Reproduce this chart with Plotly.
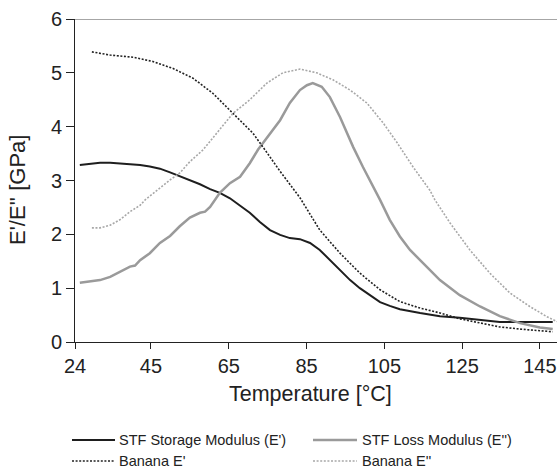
import plotly.graph_objects as go

# ---- data ----
stf_storage_T = [26.7, 29.3, 31.9, 34.5, 37.0, 40.0, 42.2, 44.7, 47.3, 49.9, 52.4, 55.0, 57.6, 60.2,
                 62.7, 65.3, 67.9, 70.4, 73.0, 75.6, 78.2, 80.7, 83.3, 85.9, 88.4, 91.0, 93.6, 96.2,
                 98.7, 101.3, 103.9, 106.4, 109.0, 114.2, 119.3, 124.4, 129.6, 134.7, 139.9, 148.3]
stf_storage_E = [3.29, 3.31, 3.33, 3.33, 3.32, 3.30, 3.29, 3.26, 3.22, 3.15, 3.08, 3.01, 2.93, 2.84,
                 2.77, 2.67, 2.54, 2.40, 2.23, 2.08, 1.99, 1.93, 1.91, 1.84, 1.71, 1.52, 1.34, 1.15,
                 1.00, 0.87, 0.74, 0.67, 0.61, 0.54, 0.48, 0.45, 0.41, 0.37, 0.37, 0.37]

stf_loss_T = [26.7, 29.3, 31.9, 34.5, 37.0, 39.6, 40.9, 42.2, 44.7, 47.3, 49.9, 52.4, 55.0, 57.6,
              58.9, 60.2, 62.7, 65.3, 67.9, 70.4, 72.5, 75.6, 78.2, 80.7, 83.3, 85.1, 86.6, 88.9,
              91.0, 93.6, 96.2, 97.0, 99.5, 103.1, 103.9, 106.4, 109.0, 111.6, 114.2, 119.3, 124.4,
              129.6, 134.7, 139.9, 145.0, 148.3]
stf_loss_E = [1.10, 1.13, 1.15, 1.21, 1.31, 1.40, 1.42, 1.52, 1.65, 1.84, 1.97, 2.15, 2.31, 2.40,
              2.42, 2.51, 2.77, 2.95, 3.07, 3.32, 3.57, 3.88, 4.12, 4.44, 4.68, 4.77, 4.81, 4.74,
              4.55, 4.18, 3.75, 3.62, 3.25, 2.76, 2.64, 2.27, 1.96, 1.71, 1.52, 1.15, 0.87,
              0.66, 0.48, 0.35, 0.27, 0.24]

banana_storage_T = [29.8, 34.5, 40.4, 45.5, 50.7, 55.8, 60.9, 66.1, 71.2, 74.5, 78.2, 83.3, 88.4,
                    93.6, 98.7, 103.9, 109.0, 114.2, 119.3, 124.4, 129.6, 134.7, 139.9, 148.3]
banana_storage_E = [5.39, 5.33, 5.29, 5.21, 5.08, 4.90, 4.62, 4.25, 3.88, 3.55, 3.17, 2.68, 2.08,
                    1.65, 1.28, 0.97, 0.75, 0.63, 0.54, 0.43, 0.35, 0.28, 0.24, 0.19]

banana_loss_T = [29.8, 31.9, 34.5, 37.0, 39.6, 42.2, 43.5, 46.5, 49.9, 52.4, 55.0, 58.4, 62.0, 66.1,
                 70.4, 74.8, 78.9, 83.3, 87.6, 91.8, 96.2, 100.5, 104.7, 108.3, 112.4, 116.7, 118.0,
                 121.9, 127.0, 132.1, 137.3, 142.4, 146.8, 149.4]
banana_loss_E = [2.12, 2.12, 2.17, 2.27, 2.42, 2.54, 2.64, 2.82, 3.01, 3.14, 3.35, 3.57, 3.89, 4.25,
                 4.50, 4.81, 5.00, 5.07, 5.00, 4.87, 4.68, 4.44, 4.07, 3.70, 3.25, 2.82, 2.64,
                 2.21, 1.71, 1.28, 0.91, 0.66, 0.47, 0.38]

series_names = ["STF Storage Modulus (E')", "STF Loss Modulus (E'')", "Banana E'", "Banana E''"]

x_tick_vals = [25.46, 45, 65, 85, 105, 125, 145]
x_tick_text = ["24", "45", "65", "85", "105", "125", "145"]
y_tick_vals = [0, 1, 2, 3, 4, 5, 6]

FONT = "Liberation Sans, Arial, sans-serif"
TXT = "#222222"

styles = [
    dict(color="#1e1e1e", width=2, dash="solid"),
    dict(color="#9a9a9a", width=2.5, dash="solid"),
    dict(color="#222222", width=1.6, dash="2px,1.6px"),
    dict(color="#a8a8a8", width=1.6, dash="2px,1.6px"),
]
xs = [stf_storage_T, stf_loss_T, banana_storage_T, banana_loss_T]
ys = [stf_storage_E, stf_loss_E, banana_storage_E, banana_loss_E]

fig = go.Figure()
for x, y, nm, st in zip(xs, ys, series_names, styles):
    fig.add_trace(go.Scatter(x=x, y=y, mode="lines", name=nm, line=st, showlegend=False))

# plot area in the reference: x 75..557 px, y 19..342 px
def px_x(p):
    return (p - 75) / 482.0

def px_y(p):
    return (342 - p) / 323.0

# legend (2 x 2), drawn as shapes + text
legend_pos = [(72, 115, 117, 440), (313, 357, 360, 440), (72, 115, 117, 461), (313, 357, 360, 461)]
shapes = [dict(type="line", xref="paper", yref="y", x0=0, x1=1, y0=6, y1=6,
               line=dict(color="#888888", width=1.5))]
annotations = []
for (lx0, lx1, tx, ly), nm, st in zip(legend_pos, series_names, styles):
    shapes.append(dict(type="line", xref="paper", yref="paper",
                       x0=px_x(lx0), x1=px_x(lx1), y0=px_y(ly), y1=px_y(ly),
                       line=dict(color=st["color"], width=st["width"] if st["dash"] == "solid" else 1.6,
                                 dash=st["dash"])))
    annotations.append(dict(text=nm, xref="paper", yref="paper", x=px_x(tx), y=px_y(ly),
                            xanchor="left", yanchor="middle", showarrow=False,
                            font=dict(family=FONT, size=14.5, color=TXT)))

annotations += [
    dict(text="Temperature [°C]", xref="paper", yref="paper", x=px_x(310), y=px_y(394),
         xanchor="center", yanchor="middle", showarrow=False,
         font=dict(family=FONT, size=21.5, color=TXT)),
    dict(text="E'/E'' [GPa]", xref="paper", yref="paper", x=px_x(17), y=px_y(190),
         xanchor="center", yanchor="middle", showarrow=False, textangle=-90,
         font=dict(family=FONT, size=22, color=TXT)),
]

fig.update_layout(
    width=559, height=468,
    margin=dict(l=75, r=2, t=19, b=126, autoexpand=False),
    paper_bgcolor="white", plot_bgcolor="white",
    font=dict(family=FONT, color=TXT),
    showlegend=False,
    xaxis=dict(range=[25.46, 149.4], tickvals=x_tick_vals, ticktext=x_tick_text,
               showgrid=False, zeroline=False, showline=True, linecolor="#222222", linewidth=1,
               ticks="outside", ticklen=6, tickcolor="#222222",
               tickfont=dict(family=FONT, size=20, color=TXT)),
    yaxis=dict(range=[0, 6], tickvals=y_tick_vals,
               showgrid=False, zeroline=False, showline=True, linecolor="#222222", linewidth=1,
               ticks="outside", ticklen=8, tickcolor="#222222",
               tickfont=dict(family=FONT, size=20, color=TXT)),
    shapes=shapes,
    annotations=annotations,
)

fig.write_html(
    "out.html",
    config={"displayModeBar": False},
    post_script="document.body.style.margin='0';document.body.style.overflow='hidden';",
)
